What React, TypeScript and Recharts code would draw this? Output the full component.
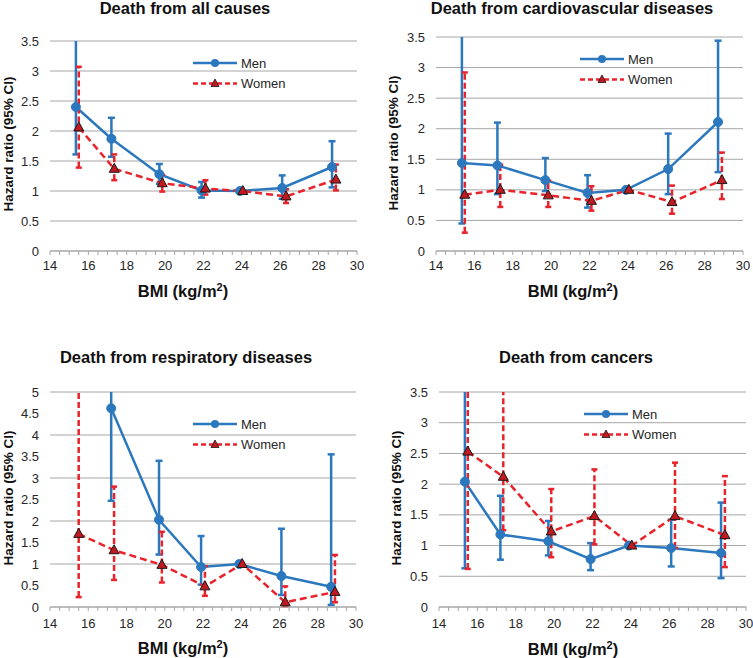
import React from 'react'
import { LineChart, Line, XAxis, YAxis, CartesianGrid, ErrorBar, Legend } from 'recharts'

const BLUE = '#2b78be'
const RED = '#e8232a'
const TRI_FILL = '#c0191f'
const GRID = '#a6a6a6'
const TEXT = '#262626'
const FONT = '"Liberation Sans", Arial, sans-serif'

// BMI category midpoints (women are drawn slightly right of men)
const menBmi = [15.35, 17.2, 19.7, 21.9, 23.9, 26.1, 28.7]
const womenBmi = [15.5, 17.35, 19.85, 22.1, 24.05, 26.3, 28.9]

const xTicks = [
  14, 14.5, 15, 15.5, 16, 16.5, 17, 17.5, 18, 18.5, 19, 19.5, 20, 20.5, 21, 21.5,
  22, 22.5, 23, 23.5, 24, 24.5, 25, 25.5, 26, 26.5, 27, 27.5, 28, 28.5, 29, 29.5, 30,
]
const yTicksLow = [0, 0.5, 1, 1.5, 2, 2.5, 3, 3.5]
const yTicksHigh = [0, 0.5, 1, 1.5, 2, 2.5, 3, 3.5, 4, 4.5, 5]

// all causes
const allMenHr = [2.4, 1.87, 1.28, 1.01, 1.0, 1.05, 1.4]
const allMenLo = [1.61, 1.57, 1.12, 0.89, null, 0.87, 1.06]
const allMenHi = [3.9, 2.22, 1.45, 1.15, null, 1.26, 1.83]
const allWomenHr = [2.06, 1.37, 1.13, 1.04, 1.0, 0.91, 1.19]
const allWomenLo = [1.39, 1.18, 0.99, 0.94, null, 0.8, 1.01]
const allWomenHi = [3.07, 1.61, 1.27, 1.18, null, 1.03, 1.44]

// cardiovascular
const cvdMenHr = [1.44, 1.4, 1.16, 0.95, 1.0, 1.34, 2.11]
const cvdMenLo = [0.45, 0.93, 0.98, 0.71, null, 0.93, 1.29]
const cvdMenHi = [4.6, 2.1, 1.52, 1.24, null, 1.92, 3.44]
const cvdWomenHr = [0.92, 1.0, 0.91, 0.82, 1.0, 0.8, 1.16]
const cvdWomenLo = [0.3, 0.72, 0.72, 0.66, null, 0.61, 0.85]
const cvdWomenHi = [2.92, 1.41, 1.15, 1.06, null, 1.07, 1.61]

// respiratory (no men estimate for the lowest BMI group)
const resMenHr = [null, 4.62, 2.03, 0.93, 1.0, 0.72, 0.47]
const resMenLo = [null, 2.47, 1.22, 0.52, null, 0.28, 0.05]
const resMenHi = [null, 8.7, 3.4, 1.65, null, 1.82, 3.55]
const resWomenHr = [1.7, 1.32, 0.98, 0.48, 1.0, 0.11, 0.35]
const resWomenLo = [0.23, 0.63, 0.57, 0.26, null, 0.02, 0.11]
const resWomenHi = [12.5, 2.8, 1.75, 0.95, null, 0.48, 1.21]

// cancers
const canMenHr = [2.04, 1.18, 1.07, 0.78, 1.0, 0.96, 0.88]
const canMenLo = [0.63, 0.77, 0.84, 0.6, null, 0.66, 0.47]
const canMenHi = [6.2, 1.81, 1.4, 1.04, null, 1.42, 1.7]
const canWomenHr = [2.53, 2.12, 1.23, 1.48, 1.0, 1.48, 1.17]
const canWomenLo = [0.62, 1.25, 0.81, 1.02, null, 0.96, 0.65]
const canWomenHi = [10.0, 3.9, 1.92, 2.24, null, 2.35, 2.13]

type Num = number | null

function rows(bmi: number[], hr: Num[], lo: Num[], hi: Num[]) {
  return bmi.map((b, i) => {
    const v = hr[i]
    const l = lo[i]
    const h = hi[i]
    return {
      bmi: b,
      hr: v,
      err: v == null || l == null || h == null ? null : [v - l, h - v],
    }
  })
}

const Triangle = (props: any) => {
  const { cx, cy, index } = props
  if (cx == null || cy == null || Number.isNaN(cy)) return <g key={index} />
  return (
    <path
      key={index}
      d={`M${cx},${cy - 5.5} L${cx + 5},${cy + 3.5} L${cx - 5},${cy + 3.5} Z`}
      fill={TRI_FILL}
      stroke="#1a1a1a"
      strokeWidth={1}
    />
  )
}

const LegendBox = () => (
  <svg width={100} height={40} style={{ display: 'block', overflow: 'visible' }}>
    <line x1={0} y1={8} x2={44} y2={8} stroke={BLUE} strokeWidth={2.5} />
    <circle cx={22} cy={8} r={4} fill={BLUE} />
    <text x={48} y={12.6} fontSize={13} fill={TEXT} fontFamily={FONT}>Men</text>
    <line x1={0} y1={28.5} x2={44} y2={28.5} stroke={RED} strokeWidth={2.5} strokeDasharray="5 3" />
    <path d="M22,24 L26,31.5 L18,31.5 Z" fill={TRI_FILL} stroke="#1a1a1a" strokeWidth={0.8} />
    <text x={48} y={33.1} fontSize={13} fill={TEXT} fontFamily={FONT}>Women</text>
  </svg>
)

const XTick = (props: any) => {
  const { x, y, payload } = props
  if (payload.value % 2 !== 0) return <g />
  return (
    <text x={x} y={y} dy="0.71em" textAnchor="middle" fontSize={13} fill={TEXT} fontFamily={FONT}>
      {payload.value}
    </text>
  )
}

type PanelProps = {
  id: string
  title: string
  left: number
  top: number
  width: number
  height: number
  margin: { top: number; right: number; bottom: number; left: number }
  yAxisWidth: number
  xAxisHeight: number
  tickMargin: number
  yMax: number
  yTicks: number[]
  men: ReturnType<typeof rows>
  women: ReturnType<typeof rows>
  titlePos: [number, number]
  yLabelPos: [number, number]
  bmiPos: [number, number]
  legendPos: [number, number]
}

function Panel(p: PanelProps) {
  const plotX = p.margin.left + p.yAxisWidth
  const plotY = p.margin.top
  const plotW = p.width - plotX - p.margin.right
  const plotH = p.height - p.margin.top - p.margin.bottom - p.xAxisHeight
  const clip = `url(#errclip-${p.id})`
  return (
    <div style={{ position: 'absolute', left: p.left, top: p.top, width: p.width, height: p.height }}>
      <svg width={0} height={0} style={{ position: 'absolute' }}>
        <defs>
          <clipPath id={`errclip-${p.id}`} clipPathUnits="userSpaceOnUse">
            <rect x={plotX - 10} y={plotY} width={plotW + 20} height={plotH + 10} />
          </clipPath>
        </defs>
      </svg>
      <LineChart width={p.width} height={p.height} margin={p.margin}>
        <CartesianGrid vertical={false} stroke={GRID} strokeWidth={1} />
        <XAxis
          type="number"
          dataKey="bmi"
          domain={[14, 30]}
          ticks={xTicks}
          interval={0}
          height={p.xAxisHeight}
          axisLine={{ stroke: GRID }}
          tickLine={{ stroke: GRID }}
          tickSize={4}
          tickMargin={p.tickMargin}
          tick={XTick}
        />
        <YAxis
          type="number"
          domain={[0, p.yMax]}
          ticks={p.yTicks}
          allowDataOverflow
          width={p.yAxisWidth}
          axisLine={false}
          tickLine={false}
          tickSize={6}
          tickMargin={5}
          tick={{ fontSize: 13, fill: TEXT, fontFamily: FONT }}
        />
        <Legend
          layout="vertical"
          align="center"
          verticalAlign="middle"
          content={LegendBox}
          wrapperStyle={{ left: p.legendPos[0], top: p.legendPos[1], width: 'auto', height: 'auto' }}
        />
        <Line
          data={p.men}
          dataKey="hr"
          name="Men"
          type="linear"
          stroke={BLUE}
          strokeWidth={2.5}
          dot={{ r: 4.5, fill: BLUE, stroke: BLUE, strokeWidth: 1 }}
          isAnimationActive={false}
        >
          <ErrorBar
            dataKey="err"
            direction="y"
            width={3.5}
            stroke={BLUE}
            strokeWidth={2.5}
            clipPath={clip}
          />
        </Line>
        <Line
          data={p.women}
          dataKey="hr"
          name="Women"
          type="linear"
          stroke={RED}
          strokeWidth={2.5}
          strokeDasharray="7 4"
          dot={Triangle}
          isAnimationActive={false}
        >
          <ErrorBar
            dataKey="err"
            direction="y"
            width={3}
            stroke={RED}
            strokeWidth={2.5}
            strokeDasharray="6 3"
            clipPath={clip}
          />
        </Line>
      </LineChart>
      <svg
        width={p.width}
        height={p.height}
        style={{ position: 'absolute', left: 0, top: 0, pointerEvents: 'none' }}
        fontFamily={FONT}
      >
        <text x={p.titlePos[0]} y={p.titlePos[1]} textAnchor="middle" fontSize={16.5} fontWeight="bold" fill="#111">
          {p.title}
        </text>
        <text
          transform={`translate(${p.yLabelPos[0]},${p.yLabelPos[1]}) rotate(-90)`}
          textAnchor="middle"
          dominantBaseline="central"
          fontSize={13.5}
          fontWeight="bold"
          fill="#111"
        >
          Hazard ratio (95% CI)
        </text>
        <text x={p.bmiPos[0]} y={p.bmiPos[1]} textAnchor="middle" fontSize={16.5} fontWeight="bold" fill="#111">
          BMI (kg/m
          <tspan fontSize={11} dy={-6}>2</tspan>
          <tspan dy={6}>)</tspan>
        </text>
      </svg>
    </div>
  )
}

export default function App() {
  return (
    <div
      style={{
        position: 'absolute',
        left: 0,
        top: 0,
        width: 753,
        height: 658,
        background: '#fff',
        fontFamily: FONT,
        overflow: 'hidden',
      }}
    >
      <Panel
        id="all"
        title="Death from all causes"
        left={0}
        top={0}
        width={376}
        height={329}
        margin={{ top: 41, right: 19, bottom: 18, left: 0 }}
        yAxisWidth={50}
        xAxisHeight={60}
        tickMargin={6}
        yMax={3.5}
        yTicks={yTicksLow}
        men={rows(menBmi, allMenHr, allMenLo, allMenHi)}
        women={rows(womenBmi, allWomenHr, allWomenLo, allWomenHi)}
        titlePos={[185, 14]}
        yLabelPos={[8, 144]}
        bmiPos={[183, 297]}
        legendPos={[193, 55]}
      />
      <Panel
        id="cvd"
        title="Death from cardiovascular diseases"
        left={376}
        top={0}
        width={377}
        height={329}
        margin={{ top: 37, right: 10, bottom: 18, left: 0 }}
        yAxisWidth={60}
        xAxisHeight={60}
        tickMargin={6}
        yMax={3.5}
        yTicks={yTicksLow}
        men={rows(menBmi, cvdMenHr, cvdMenLo, cvdMenHi)}
        women={rows(womenBmi, cvdWomenHr, cvdWomenLo, cvdWomenHi)}
        titlePos={[196, 14]}
        yLabelPos={[17, 143]}
        bmiPos={[197, 297]}
        legendPos={[204, 51]}
      />
      <Panel
        id="res"
        title="Death from respiratory diseases"
        left={0}
        top={329}
        width={376}
        height={329}
        margin={{ top: 63, right: 20, bottom: 11, left: 0 }}
        yAxisWidth={50}
        xAxisHeight={40}
        tickMargin={8}
        yMax={5}
        yTicks={yTicksHigh}
        men={rows(menBmi, resMenHr, resMenLo, resMenHi)}
        women={rows(womenBmi, resWomenHr, resWomenLo, resWomenHi)}
        titlePos={[186, 34]}
        yLabelPos={[8, 169]}
        bmiPos={[183, 325]}
        legendPos={[193, 87]}
      />
      <Panel
        id="can"
        title="Death from cancers"
        left={376}
        top={329}
        width={377}
        height={329}
        margin={{ top: 63, right: 7, bottom: 11, left: 0 }}
        yAxisWidth={63}
        xAxisHeight={40}
        tickMargin={8}
        yMax={3.5}
        yTicks={yTicksLow}
        men={rows(menBmi, canMenHr, canMenLo, canMenHi)}
        women={rows(womenBmi, canWomenHr, canWomenLo, canWomenHi)}
        titlePos={[200, 34]}
        yLabelPos={[20, 169]}
        bmiPos={[197, 326]}
        legendPos={[208, 77]}
      />
    </div>
  )
}
